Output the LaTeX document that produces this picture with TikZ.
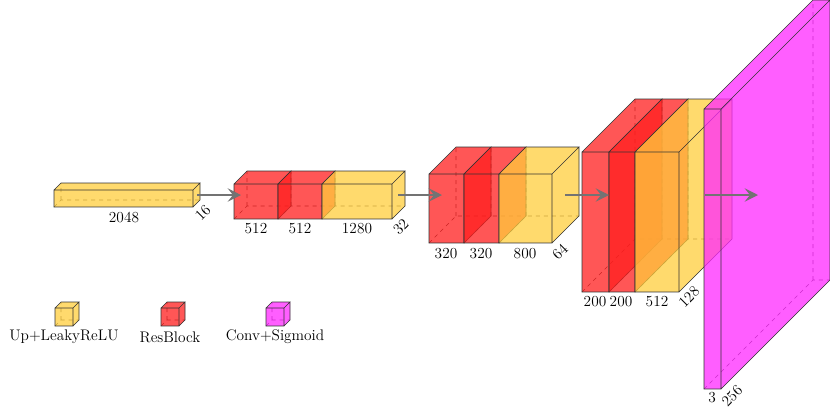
\documentclass[tikz,border=0pt]{standalone}
\usetikzlibrary{arrows.meta}
\definecolor{upc}{RGB}{255,205,60}
\definecolor{resc}{RGB}{255,30,30}
\definecolor{sigc}{RGB}{255,40,255}
\tikzset{
  hid/.style={dashed,draw=black!80,line width=0.4pt},
  edge/.style={draw=black!80,line width=0.5pt},
  conn/.style={draw=black!55,line width=2pt,-{Stealth[length=10pt,width=10pt,inset=4pt]}},
  lbl/.style={font=\fontsize{11.5}{13}\selectfont,inner sep=1pt},
}
% \cube{name}{x}{y}{w}{h}{d}{color}{opacity}
\newcommand{\cube}[8]{%
  \coordinate (#1-a) at (#2,#3);
  \coordinate (#1-b) at ({#2+#4},#3);
  \coordinate (#1-c) at ({#2+#4},{#3+#5});
  \coordinate (#1-d) at (#2,{#3+#5});
  \coordinate (#1-a2) at ({#2+#6},{#3-#6});
  \coordinate (#1-b2) at ({#2+#4+#6},{#3-#6});
  \coordinate (#1-c2) at ({#2+#4+#6},{#3+#5-#6});
  \coordinate (#1-d2) at ({#2+#6},{#3+#5-#6});
  \draw[hid] (#1-d) -- (#1-d2) -- (#1-c2) (#1-d2) -- (#1-a2);
  \fill[#7,fill opacity=#8] (#1-b)--(#1-b2)--(#1-c2)--(#1-c)--cycle;
  \fill[#7,fill opacity=#8] (#1-a)--(#1-a2)--(#1-b2)--(#1-b)--cycle;
  \fill[#7,fill opacity=#8] (#1-a)--(#1-b)--(#1-c)--(#1-d)--cycle;
  \draw[edge] (#1-a)--(#1-b)--(#1-c)--(#1-d)--cycle (#1-a)--(#1-a2)--(#1-b2)--(#1-b) (#1-b2)--(#1-c2)--(#1-c);
}
\begin{document}
\begin{tikzpicture}[x=0.75pt,y=-0.75pt]
\useasboundingbox (0,0) rectangle (830,408);
% block 1
\cube{u1}{54}{190}{139}{17}{7}{upc}{0.75}
\node[lbl] (l2048) at (124,217) {2048};
\node[lbl,rotate=45] (l16) at (203,213) {16};
% block 2
\cube{r1}{234}{184}{44}{35}{13}{resc}{0.75}
\cube{r2}{278}{184}{44}{35}{13}{resc}{0.75}
\cube{u2}{322}{184}{70}{35}{13}{upc}{0.75}
\node[lbl] (l512a) at (256,229) {512};
\node[lbl] (l512b) at (300,229) {512};
\node[lbl] (l1280) at (357,229) {1280};
\node[lbl,rotate=45] (l32) at (401,227) {32};
% block 3
\cube{r3}{429}{174}{35}{69}{27}{resc}{0.75}
\cube{r4}{464}{174}{35}{69}{27}{resc}{0.75}
\cube{u3}{499}{174}{53}{69}{27}{upc}{0.75}
\node[lbl] (l320a) at (446,254) {320};
\node[lbl] (l320b) at (481,254) {320};
\node[lbl] (l800) at (525,254) {800};
\node[lbl,rotate=45] (l64) at (560,252) {64};
% block 4
\cube{r5}{582}{152}{27}{140}{53}{resc}{0.75}
\cube{r6}{609}{152}{26}{140}{53}{resc}{0.75}
\cube{u4}{635}{152}{44}{140}{53}{upc}{0.75}
\node[lbl] (l200a) at (595,302) {200};
\node[lbl] (l200b) at (621,302) {200};
\node[lbl] (l512c) at (657,302) {512};
\node[lbl,rotate=45] (l128) at (689,297) {128};
% sigmoid
\cube{s1}{704}{109}{17}{280}{109}{sigc}{0.75}
\node[lbl] (l3) at (712,398) {3};
\node[lbl,rotate=45] (l256) at (732,396) {256};
% connectors
\coordinate (e1) at (197,195); \coordinate (f1) at (241,195);
\coordinate (e2) at (398,195); \coordinate (f2) at (442,195);
\coordinate (e3) at (565,195); \coordinate (f3) at (609,195);
\coordinate (e4) at (705,195); \coordinate (f4) at (758,195);
\draw[conn] (e1) -- (f1);
\draw[conn] (e2) -- (f2);
\draw[conn] (e3) -- (f3);
\draw[conn] (e4) -- (f4);
% legend
\cube{lg1}{55}{308}{18}{18}{6}{upc}{0.75}
\cube{lg2}{161}{308}{18}{18}{6}{resc}{0.75}
\cube{lg3}{266}{308}{18}{18}{6}{sigc}{0.75}
\node[lbl] (t1) at (64,337) {Up+LeakyReLU};
\node[lbl] (t2) at (170,337) {ResBlock};
\node[lbl] (t3) at (275,337) {Conv+Sigmoid};
\end{tikzpicture}
\end{document}
